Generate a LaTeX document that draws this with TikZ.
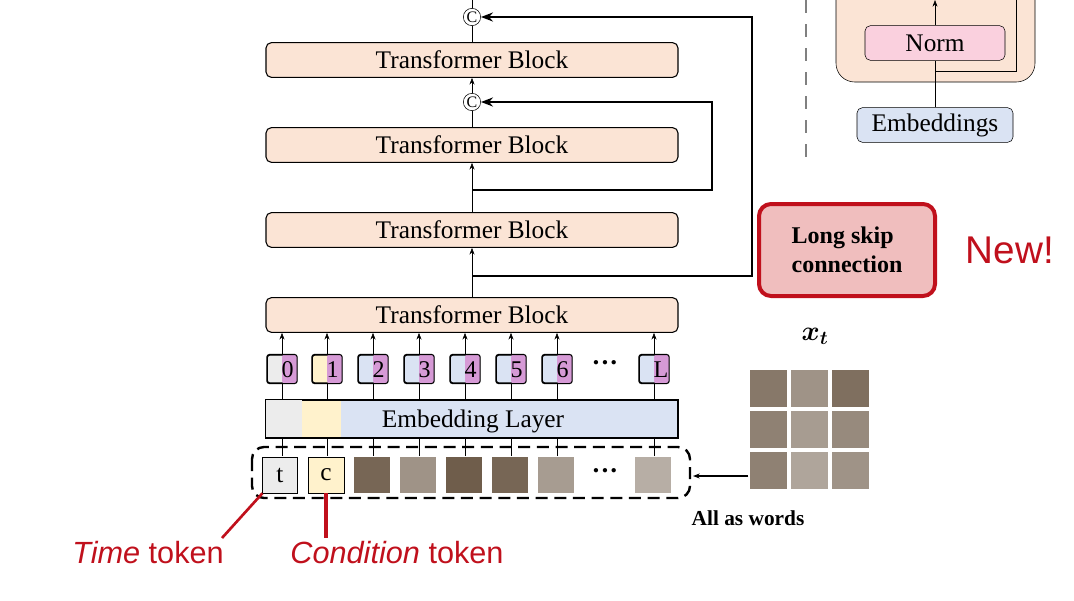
\documentclass[tikz,border=0pt]{standalone}
\usepackage{fontspec}
\setmainfont{Liberation Serif}
\setsansfont{Liberation Sans}
\usepackage{amsmath,bm}
\usetikzlibrary{arrows.meta}

\definecolor{peach}{RGB}{251,228,213}
\definecolor{embblue}{RGB}{218,227,243}
\definecolor{tokpink}{RGB}{214,154,214}
\definecolor{tokgray}{RGB}{236,236,236}
\definecolor{tokyellow}{RGB}{255,242,204}
\definecolor{normpink}{RGB}{250,208,222}
\definecolor{newred}{RGB}{192,16,28}
\definecolor{skipfill}{RGB}{240,190,190}
\definecolor{patch}{RGB}{95,75,55}

\begin{document}
\begin{tikzpicture}[x=0.75pt,y=-0.75pt,thick,
tblock/.style={draw,rounded corners=4pt,fill=peach,minimum width=309pt,minimum height=26pt,font=\fontsize{19}{22}\selectfont},
cat/.style={circle,draw,thin,inner sep=0pt,minimum size=13pt,font=\fontsize{12}{12}\selectfont},
token/.style={draw,rounded corners=2pt,minimum width=22pt,minimum height=21pt,inner sep=0pt},
patchbox/.style={draw=none,fill=patch,minimum width=27pt,minimum height=27pt,inner sep=0pt},
redlbl/.style={text=newred,font=\sffamily\fontsize{23}{26}\selectfont},
lnk/.style={-{Stealth[length=5pt]},thin}]

\useasboundingbox (0,0) rectangle (1074,600);

% main stack
\node[cat] (C1) at (472,17) {C};
\node[tblock] (B1) at (472,60) {Transformer Block};
\node[cat] (C2) at (472,102) {C};
\node[tblock] (B2) at (472,145) {Transformer Block};
\node[tblock] (B3) at (472,230) {Transformer Block};
\node[tblock] (B4) at (472,315) {Transformer Block};

\draw[thin] (C1.north) -- (472,0);
\draw[thin] (B1.north) -- (C1.south);
\draw[lnk] (C2.north) -- (B1.south);
\draw[thin] (B2.north) -- (C2.south);
\draw[lnk] (B3.north) -- (B2.south);
\draw[lnk] (B4.north) -- (B3.south);

% long skips
\coordinate (S1) at (472,190);
\coordinate (S2) at (472,276);
\draw[-{Stealth[length=9pt]},line width=2.2pt] (S1) -- (712,190) -- (712,102) -- (C2.east);
\draw[-{Stealth[length=9pt]},line width=2.2pt] (S2) -- (752,276) -- (752,17) -- (C1.east);

% embedding layer
\node[draw,fill=embblue,minimum width=309pt,minimum height=28pt,inner sep=0pt] (E) at (472,419) {};
\fill[tokgray] ([shift={(0.5,-0.5)}]E.north west) rectangle (302,436.5);
\fill[tokyellow] (302,400.5) rectangle (341,436.5);
\draw (E.north west) rectangle (E.south east);
\node[font=\fontsize{19}{22}\selectfont] at (473,421) {Embedding Layer};

% tokens
\foreach \x/\lab/\col [count=\i] in {282/0/tokgray,327/1/tokyellow,373/2/embblue,419/3/embblue,465/4/embblue,511/5/embblue,557/6/embblue,654/L/embblue}{
  \node[token,fill=\col] (T\i) at (\x,369) {};
  \fill[tokpink,rounded corners=2pt] (T\i.north) rectangle (T\i.south east);
  \draw[rounded corners=2pt] (T\i.north west) rectangle (T\i.south east);
  \node[font=\fontsize{18}{20}\selectfont,anchor=west,inner sep=0pt] at (\x-1,370) {\lab};
  \draw[thin] (T\i.south) -- (T\i.south |- E.north);
  \draw[lnk] (T\i.north) -- (T\i.north |- B4.south);
}
\node[font=\bfseries\fontsize{20}{22}\selectfont] (TD) at (605,366) {···};

% patches
\node[draw,thin,fill=tokgray,minimum width=26pt,minimum height=27pt,inner sep=0pt,font=\fontsize{19}{22}\selectfont] (P1) at (280,475) {t};
\node[draw,thin,fill=tokyellow,minimum width=27pt,minimum height=27pt,inner sep=0pt,font=\fontsize{19}{22}\selectfont] (P2) at (326,475) {c};
\foreach \x/\sh [count=\i from 3] in {372/85,418/60,464/90,510/85,556/55,653/45}{
  \node[patchbox,fill=patch!\sh!white] (P\i) at (\x,475) {};
}
\foreach \i/\x in {1/282,2/327,3/373,4/419,5/465,6/511,7/557,8/654}{
  \draw[thin] (\x,456) -- (\x,437);
}
\node[font=\bfseries\fontsize{20}{22}\selectfont] (PD) at (605,474) {···};
\draw[line width=1.8pt,dash pattern=on 9pt off 5pt,rounded corners=9pt] (252,447) rectangle (690,498);
\coordinate (DB) at (693,476);

% x_t grid
\foreach \r/\c/\sh in {0/0/75,0/1/60,0/2/80,1/0/70,1/1/55,1/2/65,2/0/70,2/1/50,2/2/60}{
  \fill[patch!\sh!white] (750+\c*41,370+\r*41) rectangle (787+\c*41,407+\r*41);
}
\node (XT) at (809,429) [minimum size=90pt,inner sep=0pt] {};
\node[font=\fontsize{20}{22}\selectfont] at (815,336) {$\bm{x_t}$};
\draw[lnk,thick] (XT.west |- DB) -- (DB);
\node[font=\bfseries\fontsize{16}{18}\selectfont] at (748,518) {All as words};

% red labels
\node[redlbl] (TT) at (148,553) {\textit{Time} token};
\node[redlbl] (CT) at (397,553) {\textit{Condition} token};
\draw[newred,line width=2pt] (P1.south west) -- (222,538);
\draw[newred,line width=2.5pt] (P2.south) -- (326,538);

% long skip label
\node[draw=newred,line width=3pt,fill=skipfill,rounded corners=9pt,minimum width=132pt,minimum height=69pt,align=left,font=\bfseries\fontsize{18}{22}\selectfont] (LS) at (847,250) {Long skip\\connection};
\node[text=newred,font=\sffamily\fontsize{29}{32}\selectfont] (NW) at (1010,250) {New!};

% right panel
\draw[gray,line width=1.8pt,dash pattern=on 10pt off 8pt] (806,0) -- (806,160);
\draw[thin,fill=peach,rounded corners=14pt] (836,-30) rectangle (1035,82);
\node[draw,thin,fill=normpink,rounded corners=4pt,minimum width=105pt,minimum height=26pt,font=\fontsize{19}{22}\selectfont] (N) at (935,43) {Norm};
\node[draw,thin,fill=embblue,rounded corners=4pt,minimum width=117pt,minimum height=26pt,font=\fontsize{19}{22}\selectfont] (EM) at (935,125) {Embeddings};
\draw[thin] (EM.north) -- (N.south);
\draw[thin] (935,71) -- (1016,71) -- (1016,0);
\draw[lnk] (N.north) -- (935,0);
\end{tikzpicture}
\end{document}
